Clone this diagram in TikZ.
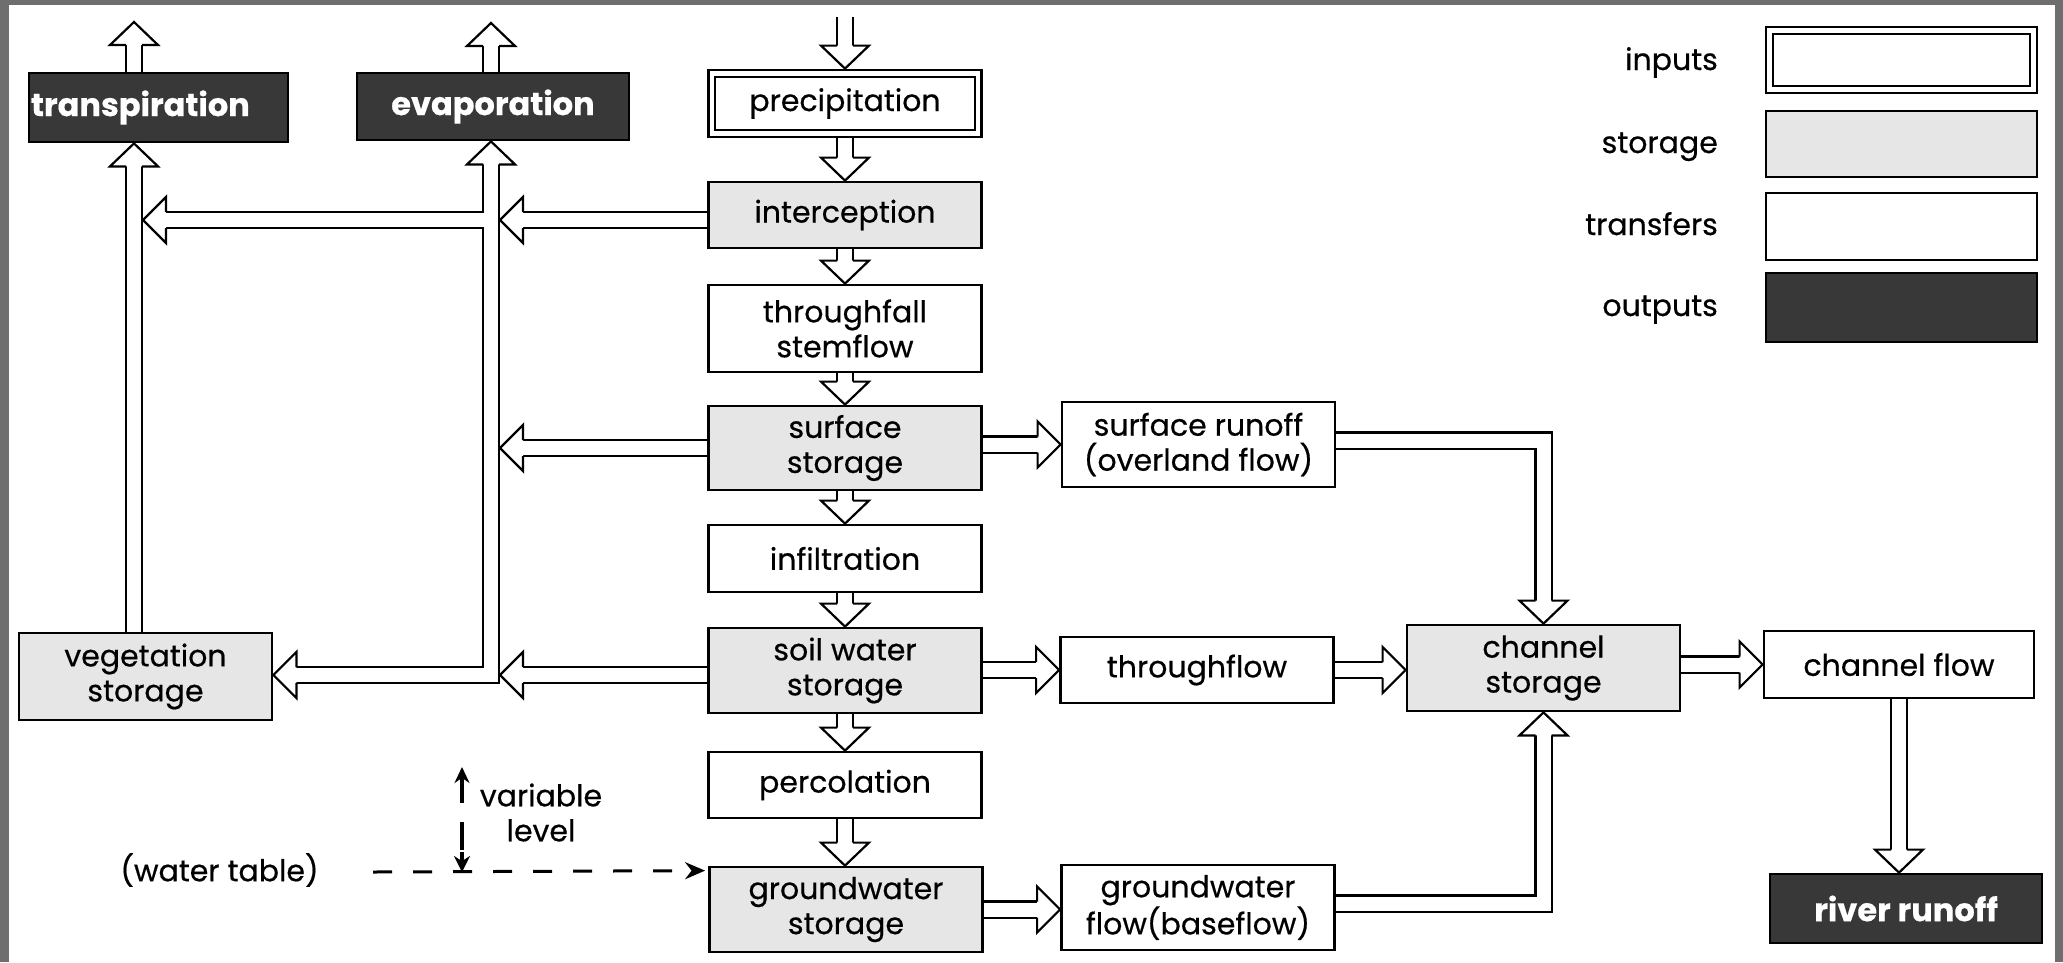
\documentclass[tikz,border=0pt]{standalone}
\usepackage{fontspec}
\setmainfont{Poppins}[FakeBold=0.5]
\usetikzlibrary{calc,arrows.meta}
\pgfdeclarelayer{frame}
\pgfdeclarelayer{pb}
\pgfdeclarelayer{pw}
\pgfdeclarelayer{ph}
\pgfsetlayers{frame,pb,pw,ph,main}
\definecolor{storefill}{HTML}{E6E6E6}
\definecolor{outfill}{HTML}{383838}
\definecolor{framegray}{HTML}{6E6E6E}
\newcommand\boxtxt{\fontsize{30}{35}\selectfont}
\newcommand\boxtxtb{\fontsize{32}{36}\selectfont\bfseries}
\tikzset{
 bx/.style={draw, line width=2.8pt, inner sep=0pt, align=center, font=\boxtxt, minimum width=273pt},
 storebox/.style={bx, fill=storefill},
 transbox/.style={bx, fill=white},
 inbox/.style={bx, fill=white},
 outbox/.style={bx, fill=outfill, text=white, font=\boxtxtb},
 pipeout/.style={line width=18.4pt, line join=miter, black},
 pipein/.style={line width=14pt, line join=miter, white},
 headline/.style={line width=2.2pt, line join=miter},
 wtline/.style={line width=3pt, dash pattern=on 19pt off 21pt},
 lbl/.style={font=\boxtxt, inner sep=0pt},
}
\newcommand\pipe[1]{%
 \begin{pgfonlayer}{pb}\draw[pipeout] #1;\end{pgfonlayer}%
 \begin{pgfonlayer}{pw}\draw[pipein] #1;\end{pgfonlayer}}
\newcommand\headD[1]{\begin{pgfonlayer}{ph}\begin{scope}[shift={#1}]
 \fill[white] (-8,-23)--(-24,-23)--(0,0)--(24,-23)--(8,-23)--cycle;
 \draw[headline] (-8,-23)--(-24,-23)--(0,0)--(24,-23)--(8,-23);
 \end{scope}\end{pgfonlayer}}
\newcommand\headU[1]{\begin{pgfonlayer}{ph}\begin{scope}[shift={#1}]
 \fill[white] (-8,23)--(-24,23)--(0,0)--(24,23)--(8,23)--cycle;
 \draw[headline] (-8,23)--(-24,23)--(0,0)--(24,23)--(8,23);
 \end{scope}\end{pgfonlayer}}
\newcommand\headL[1]{\begin{pgfonlayer}{ph}\begin{scope}[shift={#1}]
 \fill[white] (23,-8)--(23,-23)--(0,0)--(23,23)--(23,8)--cycle;
 \draw[headline] (23,-8)--(23,-23)--(0,0)--(23,23)--(23,8);
 \end{scope}\end{pgfonlayer}}
\newcommand\headR[1]{\begin{pgfonlayer}{ph}\begin{scope}[shift={#1}]
 \fill[white] (-23,-8)--(-23,-23)--(0,0)--(-23,23)--(-23,8)--cycle;
 \draw[headline] (-23,-8)--(-23,-23)--(0,0)--(-23,23)--(-23,8);
 \end{scope}\end{pgfonlayer}}
\begin{document}
\begin{tikzpicture}[x=1pt,y=-1pt]
\useasboundingbox (0,0) rectangle (2063,962);
\begin{pgfonlayer}{frame}
\fill[framegray] (0,0) rectangle (2063,962);
\fill[white] (9,5) rectangle (2055,962);
\end{pgfonlayer}

% central column
\node[inbox, minimum height=67pt] (precip) at (845,103.5) {precipitation};
\draw[line width=2pt] ($(precip.north west)+(8,8)$) rectangle ($(precip.south east)+(-8,-8)$);
\node[storebox, minimum height=66pt] (intercep) at (845,215) {interception};
\node[transbox, minimum height=87pt] (thfall) at (845,328.5) {throughfall\\stemflow};
\node[storebox, minimum height=84pt] (surfst) at (845,448) {surface\\storage};
\node[transbox, minimum height=67pt] (infil) at (845,558.5) {infiltration};
\node[storebox, minimum height=85pt] (soil) at (845,670.5) {soil water\\storage};
\node[transbox, minimum height=66pt] (perc) at (845,785) {percolation};
\node[storebox, minimum height=85pt] (gwst) at (846,909.5) {groundwater\\storage};
% right side
\node[transbox, minimum height=85pt] (surfrun) at (1198.5,444.5) {surface runoff\\(overland flow)};
\node[transbox, minimum height=66pt] (thflow) at (1197,670) {throughflow};
\node[transbox, minimum height=85pt] (gwflow) at (1198,907.5) {groundwater\\flow(baseflow)};
\node[storebox, minimum height=86pt] (chst) at (1543.5,668) {channel\\storage};
\node[transbox, minimum width=270pt, minimum height=67pt] (chflow) at (1899,664.5) {channel flow};
\node[outbox, minimum width=272pt, minimum height=69pt] (river) at (1906,908.5) {river runoff};
% left side
\node[storebox, minimum width=253pt, minimum height=87pt] (veg) at (145.5,676.5) {vegetation\\storage};
\node[outbox, minimum width=259pt, minimum height=69pt, text width=255pt, align=left, inner xsep=2pt] (transp) at (158.5,107.5) {transpiration};
\node[outbox, minimum width=272pt, minimum height=67pt] (evap) at (493,106.5) {evaporation};
% legend
\node[inbox, minimum width=271pt, minimum height=66pt] (lin) at (1901.5,60) {};
\draw[line width=2pt] ($(lin.north west)+(8,8)$) rectangle ($(lin.south east)+(-8,-8)$);
\node[storebox, minimum width=271pt, minimum height=66pt] (lst) at (1901.5,144) {};
\node[transbox, minimum width=271pt, minimum height=67pt] (ltr) at (1901.5,226.5) {};
\node[outbox, minimum width=271pt, minimum height=69pt] (lout) at (1901.5,307.5) {};
\node[lbl, anchor=base east] (tin) at (1718,70) {inputs};
\node[lbl, anchor=base east] (tst) at (1718,153) {storage};
\node[lbl, anchor=base east] (ttr) at (1718,235) {transfers};
\node[lbl, anchor=base east] (tout2) at (1718,316) {outputs};

% free ends and junctions
\coordinate (rain) at (845,17);
\coordinate (tx) at (134,0);
\coordinate (ex) at (491,0);
\coordinate (tout) at (134,22);
\coordinate (eout) at (491,23);
\coordinate (ej1) at (491,220);
\coordinate (ejl) at (491,675);

% column arrows
\pipe{(rain) -- ($(precip.north)+(0,-23)$)}
\headD{(precip.north)}
\foreach \a/\b in {precip/intercep, intercep/thfall, thfall/surfst, surfst/infil, infil/soil, soil/perc, perc/gwst}{
 \pipe{(\a.south) -- ($(\a.south |- \b.north)+(0,-23)$)}
 \headD{(\a.south |- \b.north)}
}
% outputs upward
\pipe{(tx |- transp.north) -- ($(tout)+(0,23)$)}
\headU{(tout)}
\pipe{(ex |- evap.north) -- ($(eout)+(0,23)$)}
\headU{(eout)}
% vegetation to transpiration
\pipe{(tx |- veg.north) -- ($(tx |- transp.south)+(0,23)$)}
\headU{(tx |- transp.south)}
% evaporation shaft with elbow to vegetation
\pipe{($(ex |- evap.south)+(0,23)$) -- (ejl) -- ($(veg.east |- ejl)+(23,0)$)}
\headU{(ex |- evap.south)}
\headL{(veg.east |- ejl)}
% interception to evaporation shaft, and branch to transpiration shaft
\pipe{(intercep.west |- ej1) -- ($(ej1)+(32,0)$)}
\headL{($(ej1)+(9,0)$)}
\pipe{(ej1) -- ($(tx |- ej1)+(32,0)$)}
\headL{($(tx |- ej1)+(9,0)$)}
% surface storage to evaporation shaft
\pipe{(surfst.west) -- ($(ex |- surfst.west)+(32,0)$)}
\headL{($(ex |- surfst.west)+(9,0)$)}
% soil water to junction
\pipe{(soil.west |- ejl) -- ($(ejl)+(32,0)$)}
\headL{($(ejl)+(9,0)$)}
% right side transfers
\pipe{(surfst.east |- surfrun.west) -- ($(surfrun.west)+(-23,0)$)}
\headR{(surfrun.west)}
\pipe{($(surfrun.east)+(0,-4)$) -- ($(chst.north |- surfrun.east)+(0,-4)$) -- ($(chst.north)+(0,-23)$)}
\headD{(chst.north)}
\pipe{(soil.east |- thflow.west) -- ($(thflow.west)+(-23,0)$)}
\headR{(thflow.west)}
\pipe{(thflow.east) -- ($(thflow.east -| chst.west)+(-23,0)$)}
\headR{(thflow.east -| chst.west)}
\pipe{(gwst.east) -- ($(gwflow.west |- gwst.east)+(-23,0)$)}
\headR{(gwflow.west |- gwst.east)}
\pipe{($(gwflow.east)+(0,-4)$) -- ($(chst.south |- gwflow.east)+(0,-4)$) -- ($(chst.south)+(0,23)$)}
\headU{(chst.south)}
\pipe{(chst.east |- chflow.west) -- ($(chflow.west)+(-23,0)$)}
\headR{(chflow.west)}
\pipe{(chflow.south) -- ($(chflow.south |- river.north)+(0,-23)$)}
\headD{(chflow.south |- river.north)}

% water table
\node[lbl] (wt) at (219.5,870) {(water table)};
\coordinate (wtstart) at (373,872);
\coordinate (wtend) at ($(gwst.north west)+(-3,5)$);
\draw[wtline, -{Stealth[length=20pt,width=17pt]}] (wtstart) -- (wtend);
\node[lbl, align=center] (vlab) at (541,812.5) {variable\\level};
\coordinate (vtop) at (462,767);
\coordinate (vbot) at (462,872);
\draw[line width=3.5pt, -{Stealth[length=16pt,width=15pt]}] ($(vtop)+(0,36)$) -- (vtop);
\draw[line width=3.5pt] ($(vtop)+(0,55)$) -- ($(vtop)+(0,83)$);
\draw[line width=3.5pt, -{Stealth[length=16pt,width=16pt]}] ($(vbot)+(0,-20)$) -- (vbot);
\end{tikzpicture}
\end{document}
